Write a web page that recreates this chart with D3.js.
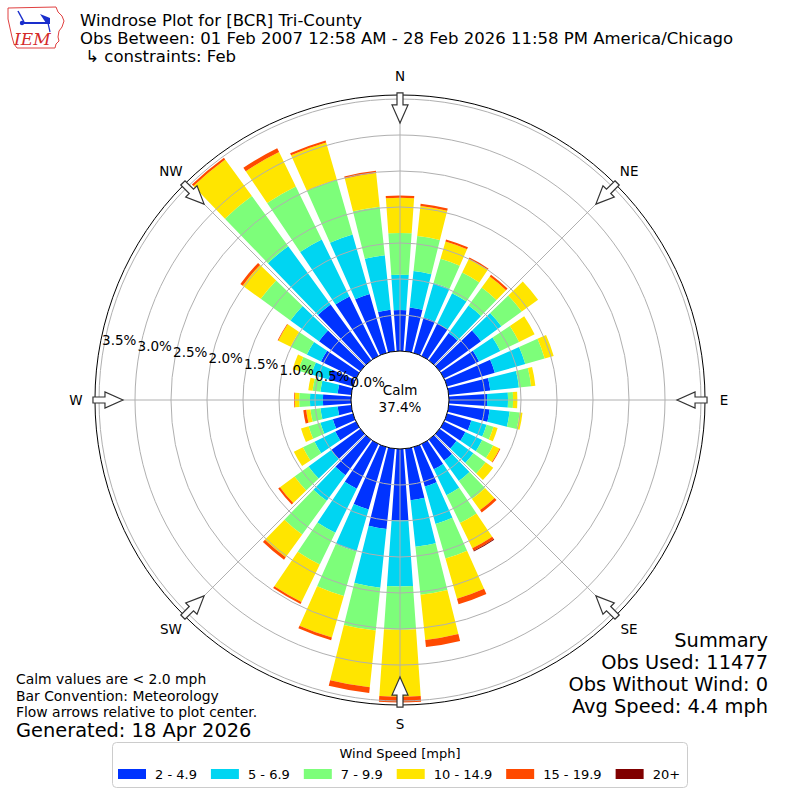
<!DOCTYPE html>
<html>
<head>
<meta charset="utf-8">
<script src="https://cdn.jsdelivr.net/npm/d3@7"></script>
<style>
  body { margin: 0; background: #fff; }
  svg { font-family: "DejaVu Sans", sans-serif; }
</style>
</head>
<body>
<svg id="chart" width="800" height="800"></svg>
<script>
// wind directions (deg, meteorological) and speed bins
const directions = d3.range(0, 360, 10);
const speedBins = ["2 - 4.9", "5 - 6.9", "7 - 9.9", "10 - 14.9", "15 - 19.9", "20+"];
const binColors = ["#0033ff", "#00d5f2", "#7dfe7a", "#ffe500", "#ff4a00", "#800000"];

// percent of observations, one value per direction (0, 10, ... 350)
const pct2to5 = [0.57,0.61,0.51,0.50,0.47,0.71,0.54,0.69,0.58,0.53,0.57,0.35,0.33,0.29,0.36,0.39,0.57,0.72,
                 0.99,1.12,0.90,0.69,0.61,0.50,0.32,0.29,0.19,0.39,0.19,0.35,0.54,0.71,0.96,0.92,0.85,0.58];
const pct5to7 = [0.49,0.51,0.50,0.47,0.47,0.35,0.33,0.44,0.40,0.29,0.28,0.22,0.26,0.29,0.35,0.40,0.54,0.65,
                 0.92,0.82,0.61,0.68,0.44,0.39,0.32,0.18,0.24,0.18,0.24,0.25,0.22,0.49,1.00,0.88,0.86,0.76];
const pct7to10 = [0.58,0.49,0.35,0.32,0.31,0.35,0.29,0.28,0.17,0.07,0.14,0.10,0.17,0.21,0.31,0.43,0.50,0.67,
                  0.60,0.60,0.64,0.49,0.58,0.24,0.18,0.17,0.14,0.15,0.11,0.19,0.25,0.51,0.86,0.82,0.79,0.68];
const pct10to15 = [0.49,0.42,0.25,0.21,0.19,0.28,0.24,0.13,0.06,0.06,0.04,0.06,0.10,0.13,0.19,0.39,0.58,0.63,
                   0.93,0.79,0.60,0.58,0.39,0.25,0.14,0.11,0.06,0.06,0.06,0.08,0.19,0.31,0.63,0.53,0.54,0.47];
const pct15to20 = [0.03,0.03,0.03,0.02,0.03,0.00,0,0,0,0,0,0,0.01,0,0.04,0.04,0.08,0.10,
                   0.08,0.08,0.04,0.03,0.04,0.03,0,0,0.04,0.01,0,0,0.01,0.04,0.03,0.06,0.03,0.03];
const pct20up = [0,0,0,0,0,0,0,0,0,0,0,0,0,0,0,0.01,0,0,
                 0,0,0,0,0,0,0,0,0,0,0,0,0,0,0,0,0,0];

const ringTicks = d3.range(0, 3.51, 0.5);
const compass = ["N", "NE", "E", "SE", "S", "SW", "W", "NW"];
const calmPct = 37.4;

const svg = d3.select("#chart");
const cx = 400, cy = 400;

const r = d3.scaleLinear().domain([0, 3.5]).range([49, 301]);
const rMax = 3.556;

// stack the bins
const rows = directions.map((d, i) => ({
  dir: d,
  b0: pct2to5[i], b1: pct5to7[i], b2: pct7to10[i], b3: pct10to15[i], b4: pct15to20[i], b5: pct20up[i]
}));
const keys = ["b0", "b1", "b2", "b3", "b4", "b5"];
const stacked = d3.stack().keys(keys)(rows);

const rad = d => d * Math.PI / 180;
const arc = d3.arc()
  .innerRadius(d => r(d[0]))
  .outerRadius(d => r(d[1]))
  .startAngle(d => rad(d.data.dir - 4))
  .endAngle(d => rad(d.data.dir + 4));

const plot = svg.append("g").attr("transform", `translate(${cx},${cy})`);

plot.selectAll("g.bin")
  .data(stacked)
  .join("g")
  .attr("class", "bin")
  .attr("fill", (d, i) => binColors[i])
  .selectAll("path")
  .data(d => d.filter(s => s[1] - s[0] > 0))
  .join("path")
  .attr("d", arc);

// grid on top of bars
plot.selectAll("circle.ring")
  .data(ringTicks.slice(1))
  .join("circle")
  .attr("class", "ring")
  .attr("r", d => r(d))
  .attr("fill", "none")
  .attr("stroke", "#b0b0b0")
  .attr("stroke-width", 1);

plot.selectAll("line.spoke")
  .data(d3.range(0, 360, 45))
  .join("line")
  .attr("x1", d => r(0) * Math.sin(rad(d)))
  .attr("y1", d => -r(0) * Math.cos(rad(d)))
  .attr("x2", d => r(rMax) * Math.sin(rad(d)))
  .attr("y2", d => -r(rMax) * Math.cos(rad(d)))
  .attr("stroke", "#b0b0b0")
  .attr("stroke-width", 1);

// outer frame
plot.append("circle").attr("r", r(rMax)).attr("fill", "none").attr("stroke", "#000").attr("stroke-width", 1);

// calm circle
plot.append("circle").attr("r", r(0)).attr("fill", "#fff").attr("stroke", "#000").attr("stroke-width", 1);
plot.append("text").attr("text-anchor", "middle").attr("y", -5).attr("font-size", 13.5).text("Calm");
plot.append("text").attr("text-anchor", "middle").attr("y", 12).attr("font-size", 13.5).text(calmPct.toFixed(1) + "%");

// flow arrows
const arrowPath = (() => {
  const R0 = r(rMax) + 2, R1 = r(rMax) - 28;
  const neck = R0 - 12;
  return `M-3,${-R0} L3,${-R0} L3,${-neck} L8,${-neck} L0,${-R1} L-8,${-neck} L-3,${-neck} Z`;
})();
plot.selectAll("path.arrow")
  .data(d3.range(0, 360, 45))
  .join("path")
  .attr("class", "arrow")
  .attr("d", arrowPath)
  .attr("transform", d => `rotate(${d})`)
  .attr("fill", "#fff")
  .attr("stroke", "#333")
  .attr("stroke-width", 1.2);

// compass labels
plot.selectAll("text.compass")
  .data(compass)
  .join("text")
  .attr("class", "compass")
  .attr("x", (d, i) => 324 * Math.sin(rad(i * 45)))
  .attr("y", (d, i) => -324 * Math.cos(rad(i * 45)))
  .attr("text-anchor", "middle")
  .attr("dominant-baseline", "central")
  .attr("font-size", 13.5)
  .text(d => d);

// ring labels
const labAng = rad(9.6);
plot.selectAll("text.rlab")
  .data(ringTicks)
  .join("text")
  .attr("class", "rlab")
  .attr("x", d => -r(d) * Math.cos(labAng) + 16)
  .attr("y", d => -r(d) * Math.sin(labAng) - 10)
  .attr("text-anchor", "middle")
  .attr("dominant-baseline", "central")
  .attr("font-size", 13.5)
  .text(d => d.toFixed(1) + "%");

// logo
const logo = svg.append("g");
logo.append("path")
  .attr("d", "M8,8 L56,7 L58,12 L62,16 L64,21 L62,27 L59,31 L58,37 L59,41 L56,44 L55,48 L17,48 L14,44 L12,37 L10,28 L8,19 Z")
  .attr("fill", "none").attr("stroke", "#e04040").attr("stroke-width", 1);
logo.append("line").attr("x1", 24).attr("y1", 23).attr("x2", 50).attr("y2", 23).attr("stroke", "#1a2ecc").attr("stroke-width", 2);
logo.append("line").attr("x1", 18).attr("y1", 11).attr("x2", 24).attr("y2", 22).attr("stroke", "#1a2ecc").attr("stroke-width", 1.5);
logo.append("circle").attr("cx", 22).attr("cy", 23).attr("r", 2.2).attr("fill", "#1a2ecc");
logo.append("path").attr("d", "M40,14 L50,18 L50,23 L46,23 Z").attr("fill", "#1a2ecc");
logo.append("line").attr("x1", 48).attr("y1", 23).attr("x2", 50).attr("y2", 32).attr("stroke", "#1a2ecc").attr("stroke-width", 1.2);
logo.append("text").attr("x", 14).attr("y", 45)
  .attr("font-family", "'DejaVu Serif', serif").attr("font-style", "italic")
  .attr("font-size", 17).attr("fill", "#d42a2a").text("IEM");

// titles
const titleLines = [
  "Windrose Plot for [BCR] Tri-County",
  "Obs Between: 01 Feb 2007 12:58 AM - 28 Feb 2026 11:58 PM America/Chicago",
  " \u21b3 constraints: Feb"
];
svg.selectAll("text.title")
  .data(titleLines)
  .join("text")
  .attr("class", "title")
  .attr("x", 80)
  .attr("y", (d, i) => 26 + i * 18)
  .attr("font-size", 16.5)
  .attr("xml:space", "preserve")
  .style("white-space", "pre")
  .text(d => d);

// summary
const summary = ["Summary", "Obs Used: 11477", "Obs Without Wind: 0", "Avg Speed: 4.4 mph"];
svg.selectAll("text.summary")
  .data(summary)
  .join("text")
  .attr("class", "summary")
  .attr("x", 768)
  .attr("y", (d, i) => 647 + i * 22)
  .attr("text-anchor", "end")
  .attr("font-size", 19.4)
  .text(d => d);

// notes
const notes = ["Calm values are < 2.0 mph", "Bar Convention: Meteorology", "Flow arrows relative to plot center."];
svg.selectAll("text.note")
  .data(notes)
  .join("text")
  .attr("class", "note")
  .attr("x", 16)
  .attr("y", (d, i) => 684 + i * 16.5)
  .attr("font-size", 13.9)
  .text(d => d);
svg.append("text").attr("x", 16).attr("y", 737).attr("font-size", 19.4).text("Generated: 18 Apr 2026");

// legend
const leg = svg.append("g");
leg.append("rect").attr("x", 112.5).attr("y", 742.5).attr("width", 575).attr("height", 45)
  .attr("rx", 4).attr("fill", "#fff").attr("stroke", "#cccccc");
leg.append("text").attr("x", 400).attr("y", 758).attr("text-anchor", "middle").attr("font-size", 13).text("Wind Speed [mph]");
let lx = 118;
speedBins.forEach((s, i) => {
  leg.append("rect").attr("x", lx).attr("y", 769).attr("width", 28).attr("height", 10).attr("fill", binColors[i]);
  const t = leg.append("text").attr("x", lx + 37).attr("y", 779).attr("font-size", 13).text(s);
  lx = lx + 37 + t.node().getComputedTextLength() + 14;
});
</script>
</body>
</html>
